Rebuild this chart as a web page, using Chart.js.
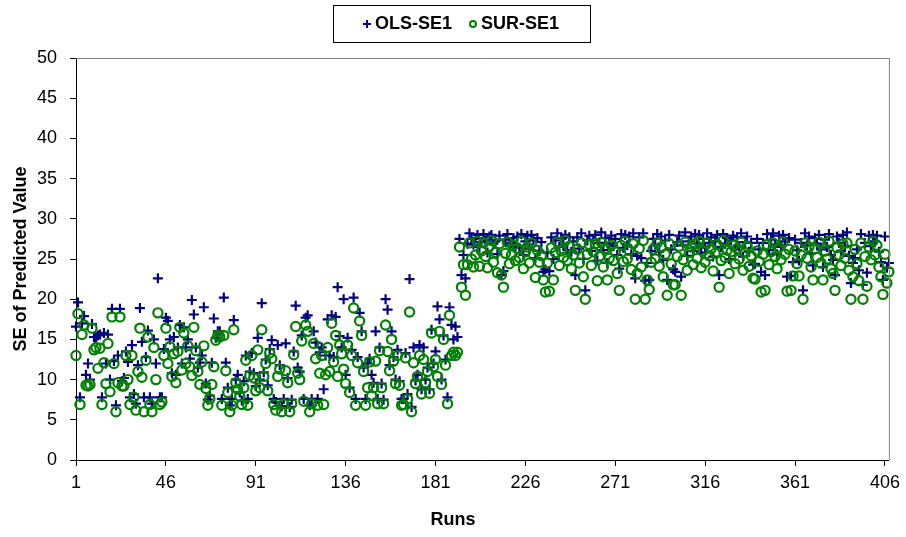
<!DOCTYPE html>
<html>
<head>
<meta charset="utf-8">
<title>SE of Predicted Value</title>
<script src="https://cdn.jsdelivr.net/npm/chart.js@4.4.1/dist/chart.umd.min.js"></script>
<style>
  html, body { margin: 0; padding: 0; background: #fff; }
  #wrap { width: 906px; height: 537px; }
</style>
</head>
<body>
<div id="wrap"><canvas id="seChart" width="906" height="537"></canvas></div>
<script>
// OLS standard errors, one value per run
const olsSE = [
  16.6, 19.6, 7.8, 17.0, 17.9, 10.6, 12.0, 10.0, 16.9, 15.3,
  15.3, 15.5, 15.6, 7.8, 15.8, 12.0, 15.6, 10.0, 18.8, 12.3,
  6.8, 13.0, 18.8, 9.8, 10.2, 13.5, 12.2, 7.8, 14.3, 8.2,
  7.0, 11.8, 18.9, 14.7, 7.8, 12.8, 16.1, 7.8, 7.0, 15.0,
  12.0, 22.6, 7.8, 7.8, 13.8, 17.7, 17.3, 15.0, 10.8, 15.3,
  10.6, 14.0, 16.8, 12.0, 16.5, 14.0, 15.0, 12.6, 19.9, 18.1,
  14.0, 11.5, 12.1, 13.0, 19.0, 9.5, 7.5, 8.0, 12.1, 17.6,
  15.2, 16.0, 16.0, 7.6, 20.2, 12.1, 9.0, 6.8, 7.6, 17.4,
  10.0, 10.6, 8.4, 7.4, 9.8, 13.0, 7.6, 11.0, 13.3, 10.8,
  9.2, 15.2, 10.0, 19.5, 10.9, 12.5, 9.3, 13.8, 14.9, 7.6,
  7.2, 14.3, 11.8, 6.7, 7.6, 14.5, 10.2, 6.6, 7.5, 13.5,
  19.2, 11.5, 11.0, 15.5, 7.6, 17.7, 18.0, 6.8, 7.6, 16.0,
  14.6, 7.6, 13.4, 14.0, 8.8, 13.0, 17.5, 13.0, 18.0, 12.8,
  17.8, 21.5, 15.4, 14.0, 20.0, 10.6, 15.2, 9.0, 13.7, 20.2,
  7.6, 12.8, 18.3, 16.0, 11.5, 7.6, 12.0, 12.6, 10.6, 9.6,
  16.0, 7.6, 14.0, 9.5, 7.5, 20.0, 18.7, 11.8, 16.0, 12.8,
  10.0, 13.7, 9.8, 7.6, 7.6, 13.3, 8.2, 22.5, 6.6, 14.0,
  9.9, 10.6, 14.3, 8.8, 14.0, 10.0, 11.5, 8.8, 16.2, 12.0,
  13.5, 19.1, 17.5, 10.0, 15.5, 12.5, 7.8, 19.0, 16.8, 15.0,
  16.6, 15.3, 27.5, 23.0, 25.5, 22.6, 26.9, 28.2, 27.5, 26.8,
  27.6, 28.0, 26.5, 27.1, 28.1, 27.3, 25.8, 27.8, 28.0, 26.9,
  27.2, 25.6, 27.9, 23.0, 23.5, 27.4, 28.1, 26.7, 27.0, 27.6,
  26.5, 27.8, 26.4, 28.1, 25.5, 27.2, 27.9, 26.3, 28.0, 27.3,
  25.1, 27.6, 26.0, 27.1, 23.4, 23.7, 25.8, 23.5, 27.7, 25.0,
  27.3, 28.2, 26.5, 27.6, 26.8, 28.0, 26.1, 27.7, 25.9, 27.2,
  23.0, 27.7, 26.3, 28.2, 25.0, 21.1, 27.3, 27.9, 26.0, 27.4,
  28.0, 24.8, 27.0, 28.3, 26.1, 27.6, 24.5, 26.9, 27.9, 26.6,
  27.5, 25.5, 23.8, 28.1, 26.4, 28.0, 26.7, 27.8, 25.6, 28.2,
  22.6, 25.4, 27.7, 25.1, 28.2, 22.3, 24.5, 22.4, 26.0, 27.5,
  26.8, 28.1, 25.9, 27.8, 24.9, 27.3, 22.4, 28.0, 26.2, 23.7,
  23.4, 27.1, 27.9, 22.8, 26.7, 28.3, 25.4, 27.2, 27.8, 26.0,
  28.1, 26.9, 28.0, 25.8, 27.5, 26.4, 28.2, 27.0, 27.7, 25.3,
  27.2, 28.0, 23.0, 26.5, 28.1, 26.9, 27.6, 25.0, 27.3, 27.9,
  26.2, 27.7, 26.6, 28.2, 25.3, 27.1, 27.8, 25.9, 27.0, 24.3,
  24.4, 27.5, 26.2, 23.4, 27.0, 23.0, 28.1, 26.1, 27.4, 28.2,
  26.8, 25.6, 27.9, 26.5, 28.0, 27.2, 22.8, 27.6, 22.9, 24.6,
  27.4, 26.1, 24.8, 27.0, 21.1, 28.2, 26.7, 27.8, 25.7, 24.2,
  27.6, 26.9, 28.0, 26.2, 24.0, 27.4, 26.5, 28.1, 25.5, 24.9,
  23.0, 27.8, 27.0, 26.0, 28.0, 26.6, 28.3, 25.4, 22.0, 24.5,
  25.1, 26.2, 23.6, 28.1, 21.8, 27.0, 23.3, 27.9, 26.6, 28.0,
  27.2, 27.9, 25.9, 24.6, 22.4, 27.8, 23.9, 24.5
];

// SUR standard errors, one value per run
const surSE = [
  13.0, 18.2, 6.9, 15.6, 16.8, 9.3, 9.2, 9.4, 16.4, 13.7,
  14.0, 11.4, 13.9, 6.9, 12.1, 9.5, 14.5, 8.5, 17.8, 12.0,
  6.0, 9.6, 17.8, 9.2, 9.2, 13.0, 10.0, 6.9, 13.0, 7.8,
  6.2, 11.0, 16.4, 10.3, 6.0, 12.4, 15.3, 6.9, 6.0, 14.0,
  10.0, 18.3, 6.9, 7.2, 13.0, 16.4, 12.0, 14.1, 10.4, 13.2,
  9.6, 13.5, 16.5, 11.2, 15.8, 12.0, 14.2, 11.6, 10.5, 16.5,
  13.6, 11.0, 9.4, 12.2, 14.2, 8.9, 6.8, 7.6, 9.4, 11.6,
  14.9, 15.5, 15.3, 6.8, 15.5, 11.1, 8.4, 6.0, 6.8, 16.2,
  9.6, 8.8, 7.9, 6.9, 9.0, 12.4, 6.8, 10.5, 13.0, 10.2,
  8.6, 13.7, 9.0, 16.2, 10.4, 12.0, 8.6, 13.3, 12.6, 6.9,
  6.2, 10.4, 11.3, 6.0, 7.0, 11.1, 9.6, 6.0, 7.0, 13.1,
  16.6, 10.8, 10.0, 14.8, 7.3, 16.8, 16.0, 6.0, 7.0, 14.5,
  12.6, 6.8, 10.8, 13.0, 6.9, 10.6, 14.0, 11.0, 17.0, 12.2,
  15.5, 10.4, 14.3, 13.2, 11.3, 9.5, 14.3, 8.4, 13.0, 18.9,
  6.8, 12.1, 17.3, 15.5, 11.0, 6.8, 9.0, 12.2, 8.0, 9.0,
  12.3, 7.0, 13.6, 9.0, 7.0, 16.8, 13.5, 11.1, 15.0, 12.3,
  9.5, 13.0, 9.3, 6.8, 6.9, 12.7, 7.6, 18.4, 6.0, 12.1,
  9.5, 10.4, 13.0, 8.2, 12.5, 9.6, 11.0, 8.3, 15.8, 11.6,
  12.5, 10.4, 16.0, 9.4, 15.0, 11.8, 7.0, 18.0, 13.0, 13.4,
  13.0, 13.4, 26.5, 21.5, 24.3, 20.5, 24.3, 27.0, 25.0, 24.0,
  25.5, 27.2, 24.1, 26.0, 27.0, 25.3, 23.9, 26.6, 27.3, 24.6,
  25.8, 23.3, 26.9, 23.0, 21.5, 25.7, 27.1, 24.4, 25.5, 26.7,
  24.8, 26.3, 25.2, 27.2, 23.8, 25.9, 26.5, 24.5, 27.0, 25.6,
  22.7, 26.1, 24.6, 25.4, 22.4, 20.9, 24.5, 21.0, 26.4, 22.4,
  25.8, 27.1, 24.2, 26.0, 25.2, 27.3, 24.8, 26.6, 23.8, 25.5,
  21.1, 26.2, 24.5, 27.0, 22.8, 20.0, 25.6, 26.8, 24.2, 25.9,
  26.9, 22.3, 25.3, 27.1, 24.0, 26.3, 22.4, 25.1, 26.7, 24.8,
  25.9, 23.2, 21.1, 26.7, 24.7, 27.2, 25.0, 26.1, 23.7, 26.9,
  20.0, 23.2, 26.3, 24.0, 27.3, 20.0, 22.4, 21.2, 24.6, 26.2,
  25.0, 27.0, 24.1, 26.5, 22.8, 25.6, 20.5, 26.9, 24.4, 21.8,
  21.8, 25.3, 26.6, 20.5, 24.9, 27.1, 23.6, 25.8, 26.5, 24.3,
  26.9, 25.1, 27.2, 23.9, 26.0, 24.6, 27.0, 25.4, 26.3, 23.5,
  25.7, 26.8, 21.5, 24.8, 27.3, 25.2, 26.1, 23.2, 25.9, 26.7,
  24.4, 26.3, 25.0, 27.1, 23.6, 25.8, 26.6, 24.1, 25.4, 22.6,
  22.5, 26.0, 24.7, 20.9, 25.6, 21.1, 26.8, 24.3, 25.9, 27.0,
  25.3, 23.8, 26.5, 24.9, 27.1, 25.6, 21.0, 26.2, 21.1, 22.9,
  26.0, 24.4, 22.9, 25.5, 20.0, 27.0, 25.1, 26.5, 24.0, 22.4,
  26.3, 25.2, 27.1, 24.5, 22.4, 26.0, 25.0, 27.2, 23.8, 23.2,
  21.1, 26.4, 25.5, 24.2, 26.9, 25.1, 27.0, 23.6, 20.0, 22.8,
  26.2, 24.4, 22.3, 27.0, 20.0, 25.3, 21.6, 26.5, 24.9, 27.2,
  25.5, 26.7, 24.0, 22.8, 20.6, 25.6, 22.0, 23.4
];

const runs = olsSE.map((v, i) => i + 1);
const xTickLabels = [1, 46, 91, 136, 181, 226, 271, 316, 361, 406];
const yTickLabels = [0, 5, 10, 15, 20, 25, 30, 35, 40, 45, 50];

const FONT = '"Liberation Sans", Arial, sans-serif';

// legend box at the top, drawn from the dataset styles
const topLegend = {
  id: 'topLegend',
  afterDraw(chart) {
    const ctx = chart.ctx;
    ctx.save();
    ctx.strokeStyle = '#000';
    ctx.lineWidth = 1;
    ctx.strokeRect(333.5, 5.5, 257, 37);
    const items = [
      { ds: chart.data.datasets[0], mx: 367, tx: 375, r: 4 },
      { ds: chart.data.datasets[1], mx: 473, tx: 481, r: 3 }
    ];
    ctx.font = 'bold 18px ' + FONT;
    ctx.textBaseline = 'middle';
    items.forEach(it => {
      ctx.strokeStyle = it.ds.borderColor;
      ctx.fillStyle = 'rgba(0,0,0,0)';
      ctx.lineWidth = 2;
      Chart.helpers.drawPoint(ctx, {
        pointStyle: it.ds.pointStyle, radius: it.r, borderWidth: 2, rotation: 0
      }, it.mx, 24);
      ctx.fillStyle = '#000';
      ctx.fillText(it.ds.label, it.tx, 24);
    });
    ctx.restore();
  }
};

// grey frame on top and right of the plot area, plus the x axis title
const plotFrame = {
  id: 'plotFrame',
  afterDraw(chart) {
    const { ctx, chartArea: a } = chart;
    ctx.save();
    ctx.strokeStyle = '#808080';
    ctx.lineWidth = 1;
    ctx.beginPath();
    ctx.moveTo(a.left, a.top + 0.5);
    ctx.lineTo(a.right + 0.5, a.top + 0.5);
    ctx.lineTo(a.right + 0.5, a.bottom);
    ctx.stroke();
    ctx.fillStyle = '#000';
    ctx.font = 'bold 18px ' + FONT;
    ctx.textAlign = 'center';
    ctx.textBaseline = 'middle';
    ctx.fillText('Runs', chart.width / 2, 520);
    ctx.restore();
  }
};

const ctx = document.getElementById('seChart').getContext('2d');
const seChart = new Chart(ctx, {
  type: 'scatter',
  data: {
    datasets: [
      {
        label: 'OLS-SE1',
        data: runs.map((r, i) => ({ x: r, y: olsSE[i] })),
        pointStyle: 'cross',
        pointRadius: 5,
        pointBorderWidth: 2.2,
        borderColor: '#000080',
        backgroundColor: 'rgba(0,0,0,0)',
        order: 1,
        clip: false
      },
      {
        label: 'SUR-SE1',
        data: runs.map((r, i) => ({ x: r, y: surSE[i] })),
        pointStyle: 'circle',
        pointRadius: 4.6,
        pointBorderWidth: 2.2,
        borderColor: '#008000',
        backgroundColor: 'rgba(0,0,0,0)',
        order: 0,
        clip: false
      }
    ]
  },
  options: {
    responsive: false,
    animation: false,
    events: [],
    layout: { padding: { top: 58, right: 16, left: 0, bottom: 0 } },
    plugins: {
      legend: { display: false },
      tooltip: { enabled: false }
    },
    scales: {
      x: {
        type: 'linear',
        min: 1,
        max: runs.length,
        afterBuildTicks: scale => {
          scale.ticks = xTickLabels.map(v => ({ value: v }));
        },
        afterFit: scale => { scale.height = 77; },
        ticks: {
          autoSkip: false,
          maxRotation: 0,
          padding: 6,
          color: '#000',
          font: { family: FONT, size: 18 }
        },
        grid: {
          drawOnChartArea: false,
          drawTicks: true,
          tickLength: 6,
          color: '#000'
        },
        border: { display: true, color: '#000', width: 1 }
      },
      y: {
        min: 0,
        max: 50,
        afterBuildTicks: scale => {
          scale.ticks = yTickLabels.map(v => ({ value: v }));
        },
        afterFit: scale => { scale.width = 76; },
        ticks: {
          padding: 13,
          color: '#000',
          font: { family: FONT, size: 18 }
        },
        grid: {
          drawOnChartArea: false,
          drawTicks: true,
          tickLength: 6,
          color: '#000'
        },
        border: { display: true, color: '#000', width: 1 },
        title: {
          display: true,
          text: 'SE of Predicted Value',
          color: '#000',
          font: { family: FONT, size: 18, weight: 'bold' },
          padding: { top: 10, bottom: 0 }
        }
      }
    }
  },
  plugins: [topLegend, plotFrame]
});
</script>
</body>
</html>
